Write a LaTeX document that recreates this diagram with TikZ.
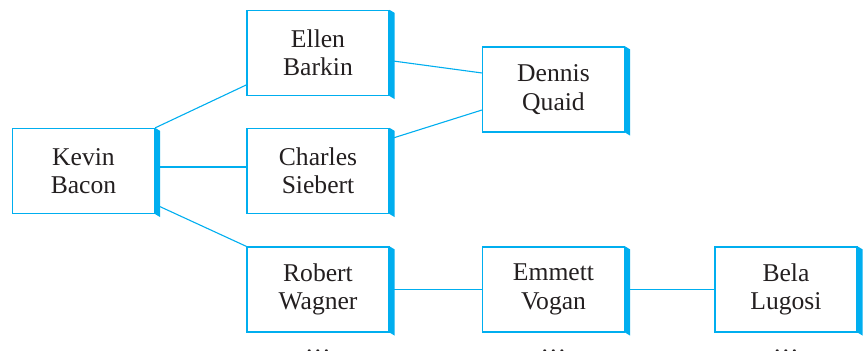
\documentclass[tikz,border=0pt]{standalone}
\usepackage{fontspec}
\setmainfont{Liberation Serif}
\usepackage{tikz}
\usetikzlibrary{calc}
\definecolor{baconblue}{HTML}{00AEEF}
\definecolor{nametext}{HTML}{231F20}

\tikzset{
  actor/.style={draw=baconblue, line width=0.6pt, minimum width=71pt, minimum height=42.5pt,
    inner sep=0pt, align=center, text=nametext, font=\fontsize{12.8}{14.2}\selectfont},
  link/.style={baconblue, line width=0.55pt},
  more/.style={anchor=base, inner sep=0pt, text=nametext, font=\fontsize{12.8}{14.2}\selectfont}
}

\begin{document}
\begin{tikzpicture}[x=0.5pt,y=-0.5pt]
  \useasboundingbox (0,0) rectangle (866,351);
  % the actors
  \node[actor] (kevin)   at (83.5,171)  {Kevin\\Bacon};
  \node[actor] (ellen)   at (318,53)    {Ellen\\Barkin};
  \node[actor] (charles) at (318,171)   {Charles\\Siebert};
  \node[actor] (robert)  at (318,289.5) {Robert\\Wagner};
  \node[actor] (dennis)  at (553.5,89.5) {Dennis\\Quaid};
  \node[actor] (emmett)  at (553.5,289.5) {Emmett\\Vogan};
  \node[actor] (bela)    at (786,289.5) {Bela\\Lugosi};
  % shared films
  \draw[link] (kevin.north east) -- (ellen.204);
  \draw[link] ([yshift=2pt]kevin.east) -- ([yshift=2pt]charles.west);
  \draw[link] (kevin.335) -- (robert.north west);
  \draw[link] (ellen.354) -- (dennis.167);
  \draw[link] (charles.24) -- (dennis.196);
  \draw[link] (robert) -- (emmett);
  \draw[link] (emmett) -- (bela);
  % thick right edges
  \foreach \n in {kevin,ellen,charles,robert,dennis,emmett,bela}
    \fill[baconblue] (\n.north east) -- ++(2.5pt,-1.5pt)
      -- ([shift={(2.5pt,-1.5pt)}]\n.south east) -- (\n.south east) -- cycle;
  % and so on
  \node[more] (robertmore) at ([yshift=-10pt]robert.south) {\dots};
  \node[more] (emmettmore) at ([yshift=-10pt]emmett.south) {\dots};
  \node[more] (belamore)   at ([yshift=-10pt]bela.south)   {\dots};
\end{tikzpicture}
\end{document}
